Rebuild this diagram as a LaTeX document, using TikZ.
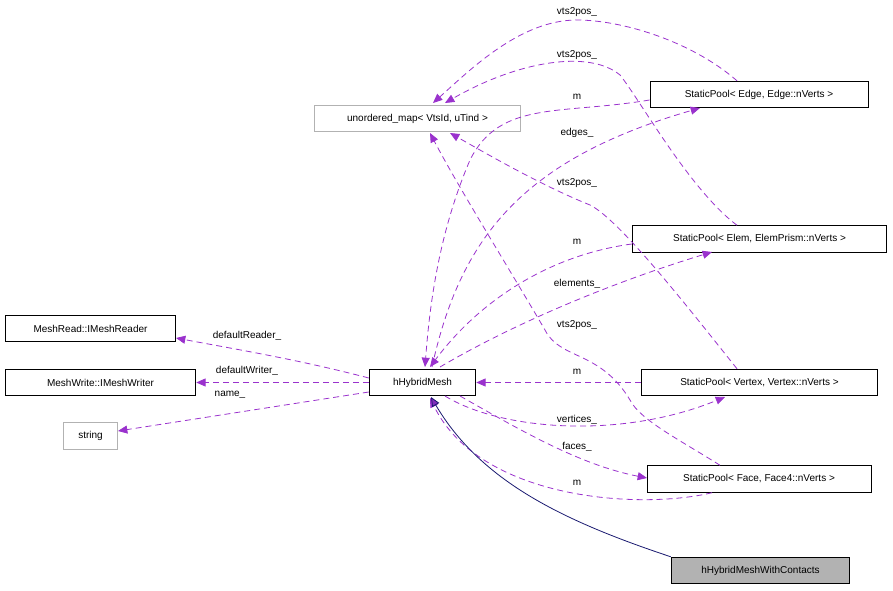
\documentclass[tikz,border=0pt]{standalone}
\usepackage{fontspec}
\setmainfont{Liberation Sans}
\usetikzlibrary{arrows.meta}
\definecolor{pur}{RGB}{154,50,205}
\definecolor{nav}{RGB}{25,25,112}
\begin{document}
\begin{tikzpicture}[x=0.75pt,y=-0.75pt,
 box/.style={draw=black,line width=0.6pt,minimum height=20pt,inner xsep=0pt,font=\fontsize{7.5}{9}\selectfont},
 gbox/.style={box,draw=gray!60},
 dep/.style={pur,dashed,dash pattern=on 4.5pt off 3pt,line width=0.6pt,-{Triangle[length=7pt,width=6pt]}},
 lab/.style={font=\fontsize{7.5}{9}\selectfont,text=black},
 ]
\useasboundingbox (0,0) rectangle (893,591);
\node[gbox,minimum width=155pt] (um) at (417.5,118.5) {unordered\_map< VtsId, uTind >};
\node[box,minimum width=163.5pt] (ed) at (759,94.5) {StaticPool< Edge, Edge::nVerts >};
\node[box,minimum width=191pt] (el) at (759.5,239) {StaticPool< Elem, ElemPrism::nVerts >};
\node[box,minimum width=177.5pt] (vx) at (759.5,382.5) {StaticPool< Vertex, Vertex::nVerts >};
\node[box,minimum width=168pt] (fc) at (759,479) {StaticPool< Face, Face4::nVerts >};
\node[box,minimum width=80pt] (hm) at (422.5,382.5) {hHybridMesh};
\node[box,minimum width=128pt] (mr) at (90.5,328.5) {MeshRead::IMeshReader};
\node[box,minimum width=143pt] (mw) at (100.5,382.5) {MeshWrite::IMeshWriter};
\node[gbox,minimum width=41pt] (st) at (90.5,436) {string};
\node[box,fill=gray!60,minimum width=134pt] (hc) at (760.5,570.5) {hHybridMeshWithContacts};

\draw[dep] (ed.north -| 737,0) .. controls (690,40) and (620,20) .. (577,20) .. controls (520,20) and (470,70) .. (433,103);
\node[lab] at (577,12) {vts2pos\_};
\draw[dep] (el.north -| 737,0) .. controls (690,190) and (640,100) .. (620,75) .. controls (590,50) and (520,60) .. (445,103);
\node[lab] at (577,55) {vts2pos\_};
\draw[dep] (vx.north -| 737,0) .. controls (690,310) and (620,220) .. (590,205) .. controls (540,185) and (480,150) .. (450,133);
\node[lab] at (577,183) {vts2pos\_};
\draw[dep] (fc.north -| 720,0) .. controls (680,440) and (640,420) .. (630,400) .. controls (600,350) and (560,360) .. (545,330) .. controls (510,270) and (460,190) .. (430,133);
\node[lab] at (577,325) {vts2pos\_};
\draw[dep] (ed.west |- 0,100) .. controls (560,115) and (500,100) .. (470,160) .. controls (440,230) and (430,300) .. (425,367);
\node[lab] at (577,97) {m};
\draw[dep] (432,367) .. controls (460,240) and (520,160) .. (700,108);
\node[lab] at (577,133) {edges\_};
\draw[dep] (el.west |- 0,244) .. controls (550,255) and (480,300) .. (430,367);
\node[lab] at (577,242) {m};
\draw[dep] (440,367) .. controls (520,320) and (620,280) .. (712,252);
\node[lab] at (577,284) {elements\_};
\draw[dep] (vx.west) -- (hm.east);
\node[lab] at (577,372) {m};
\draw[dep] (445,396) .. controls (500,430) and (620,440) .. (725,397);
\node[lab] at (577,420) {vertices\_};
\draw[dep] (460,396) .. controls (520,430) and (580,465) .. (647,478);
\node[lab] at (577,447) {faces\_};
\draw[dep] (fc.south -| 712,0) .. controls (640,510) and (480,500) .. (430,398);
\node[lab] at (577,483) {m};
\draw[dep] (hm.west |- 0,378) .. controls (300,360) and (240,350) .. (176,338);
\node[lab] at (247,336) {defaultReader\_};
\draw[dep] (hm.west) -- (mw.east);
\node[lab] at (247,371) {defaultWriter\_};
\draw[dep] (hm.west |- 0,392) -- (118,431);
\node[lab] at (230,395) {name\_};
\draw[nav,line width=0.6pt,-{Triangle[length=7pt,width=6pt,fill=pur!80!nav]}] (hc.north west) .. controls (560,520) and (480,480) .. (431,397);
\end{tikzpicture}
\end{document}
